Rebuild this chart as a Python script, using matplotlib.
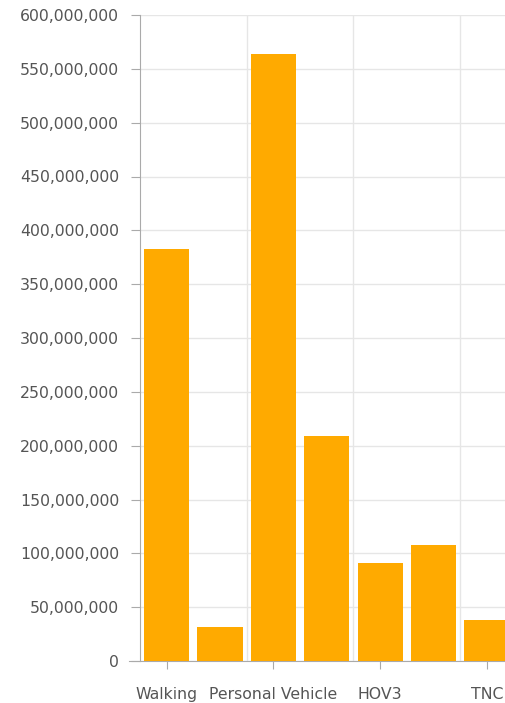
import matplotlib
matplotlib.use("Agg")
from matplotlib import pyplot as plt
from matplotlib.ticker import FuncFormatter

categories = ["Walking", "Bike", "Personal Vehicle", "HOV2", "HOV3", "Transit", "TNC"]
trips = [383e6, 31.5e6, 563.5e6, 209e6, 91e6, 108e6, 38e6]
yticks = [0, 50e6, 100e6, 150e6, 200e6, 250e6, 300e6, 350e6, 400e6, 450e6, 500e6, 550e6, 600e6]

plt.rcParams["font.family"] = "DejaVu Sans"
fig = plt.figure(figsize=(5.06, 7.03), dpi=100)
ax = fig.add_axes([140/506, 1-661/703, 1-140/506, (661-15)/703])

x = list(range(len(categories)))
ax.bar(x, trips, width=0.845, color="#FFAA00", zorder=3)

ax.set_xlim(-0.5, (506-167)/53.3)
ax.set_ylim(0, 600e6)
ax.set_yticks(yticks)
ax.yaxis.set_major_formatter(FuncFormatter(lambda v, p: f"{int(v):,}"))

# only every other category is labelled
ax.set_xticks(x[::2])
ax.set_xticklabels(categories[::2])
ax.set_xticks([1.5, 3.5, 5.5], minor=True)

ax.grid(axis="y", color="#e6e6e6", linewidth=1, zorder=0)
ax.grid(axis="x", which="minor", color="#e6e6e6", linewidth=1, zorder=0)
ax.tick_params(axis="x", which="minor", length=0)

for s in ["top", "right"]:
    ax.spines[s].set_visible(False)
for s in ["left", "bottom"]:
    ax.spines[s].set_color("#aaaaaa")
ax.spines["bottom"].set_bounds(-0.7, 7)
ax.spines["bottom"].set_clip_on(False)

ax.tick_params(axis="y", length=6.5, color="#aaaaaa", pad=8.5, labelsize=11.3, labelcolor="#555555")
ax.tick_params(axis="x", which="major", length=5.5, color="#aaaaaa", pad=13, labelsize=11.3, labelcolor="#555555")

fig.savefig("out.png", dpi=100)
